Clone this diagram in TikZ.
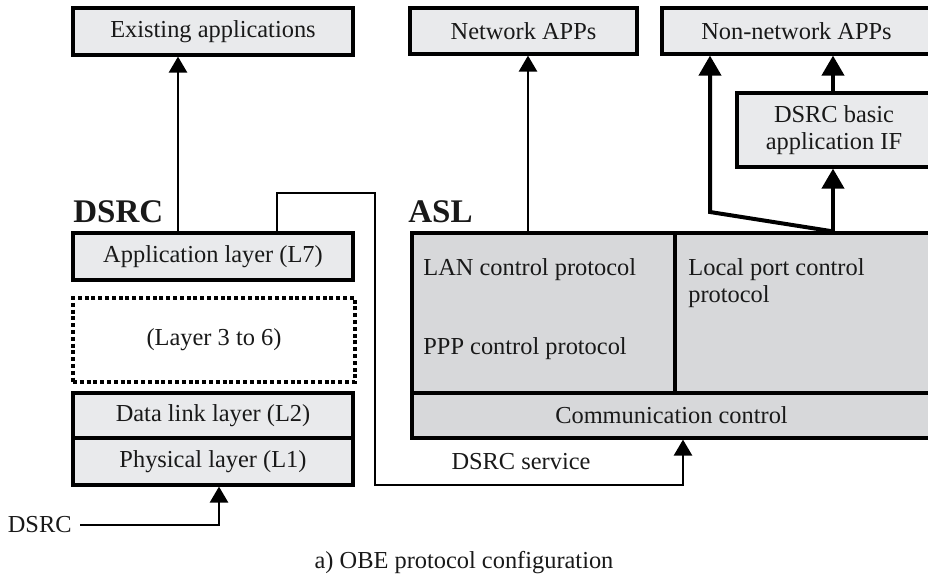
\documentclass[tikz,border=0pt]{standalone}
\usepackage{fontspec}
\setmainfont{Liberation Serif}
\usetikzlibrary{arrows.meta}
\definecolor{boxgray}{RGB}{233,234,236}
\definecolor{aslgray}{RGB}{215,216,218}

\begin{document}
\begin{tikzpicture}[x=0.5pt,y=-0.5pt,
	every node/.style={font=\fontsize{12.2}{13.5}\selectfont, text=black!90, inner sep=0pt},
	layer/.style={draw, line width=1.6pt, fill=boxgray},
	aslbox/.style={draw, line width=1.6pt, fill=aslgray},
	title/.style={font=\fontsize{16.5}{18}\selectfont\bfseries, anchor=west},
	arr/.style={line width=1.3pt, -{Triangle[length=8pt,width=9pt]}},
	thickarr/.style={line width=2pt, line join=miter, -{Triangle[length=10pt,width=11pt]}}]
	\useasboundingbox (0,0) rectangle (928,578);
	\clip (0,0) rectangle (928,578);
	% top applications
	\node[layer, minimum width=140pt, minimum height=23.5pt] (exist) at (213,31.5) {Existing applications};
	\node[layer, minimum width=113.5pt, minimum height=23pt] (netapp) at (523.5,31) {Network APPs};
	\node[layer, minimum width=134.5pt, minimum height=23pt] (nonnet) at (796.5,31) {Non-network APPs};
	\node[layer, minimum width=97pt, minimum height=37pt, align=center] (basicif) at (834,130) {DSRC basic\\application IF};
	% DSRC stack
	\node[title] (dsrctitle) at (73,212) {DSRC};
	\node[layer, minimum width=140pt, minimum height=23.5pt] (app7) at (213,256.5) {Application layer (L7)};
	\node[draw, line width=2pt, dash pattern=on 2pt off 1.4pt, fill=white, minimum width=141pt, minimum height=42pt] (l36) at (214,340) {(Layer 3 to 6)};
	\node[layer, minimum width=140pt, minimum height=22.5pt] (dll) at (213,415.5) {Data link layer (L2)};
	\node[layer, minimum width=140pt, minimum height=23.5pt] (phy) at (213,461.5) {Physical layer (L1)};
	\node[anchor=east] (dsrcin) at (72,525) {DSRC};
	% ASL
	\node[title] (asltitle) at (408,212) {ASL};
	\node[aslbox, minimum width=131.5pt, minimum height=80pt] (lan) at (543.5,313) {};
	\node[aslbox, minimum width=128pt, minimum height=80pt] (lpc) at (803,313) {};
	\node[aslbox, minimum width=259.5pt, minimum height=22.5pt] (comm) at (671.5,415.5) {Communication control};
	\node[anchor=west] (lantxt) at (423,270) {LAN control protocol};
	\node[anchor=west] (ppptxt) at (423,349) {PPP control protocol};
	\node[anchor=west, align=left] (lpctxt) at (688,283.5) {Local port control\\protocol};
	\node (svctxt) at (521,462) {DSRC service};
	\node (caption) at (464,563) {a) OBE protocol configuration};
	\coordinate (svc1) at (375,193);
	\coordinate (svc2) at (375,485);
	\coordinate (bend) at (710,212);
	% connectors
	\draw[arr] ([xshift=-17.5pt]app7.north) -- ([xshift=-17.5pt]exist.south);
	\draw[arr] ([xshift=2.25pt]netapp.south |- lan.north) -- ([xshift=2.25pt]netapp.south);
	\draw[thickarr] ([xshift=-0.5pt]basicif.south |- lpc.north) -- ([xshift=-0.5pt]basicif.south);
	\draw[thickarr] ([xshift=-0.5pt]basicif.north) -- ([xshift=-0.5pt]basicif.north |- nonnet.south);
	\draw[thickarr] ([xshift=-0.5pt]basicif.south |- lpc.north) -- (bend) -- (bend |- nonnet.south);
	\draw[arr] ([xshift=32pt]app7.north) |- (svc1) -- (svc2) -| ([xshift=5.75pt]comm.south);
	\draw[arr] ([xshift=4pt]dsrcin.east) -| ([xshift=3pt]phy.south);
\end{tikzpicture}
\end{document}
